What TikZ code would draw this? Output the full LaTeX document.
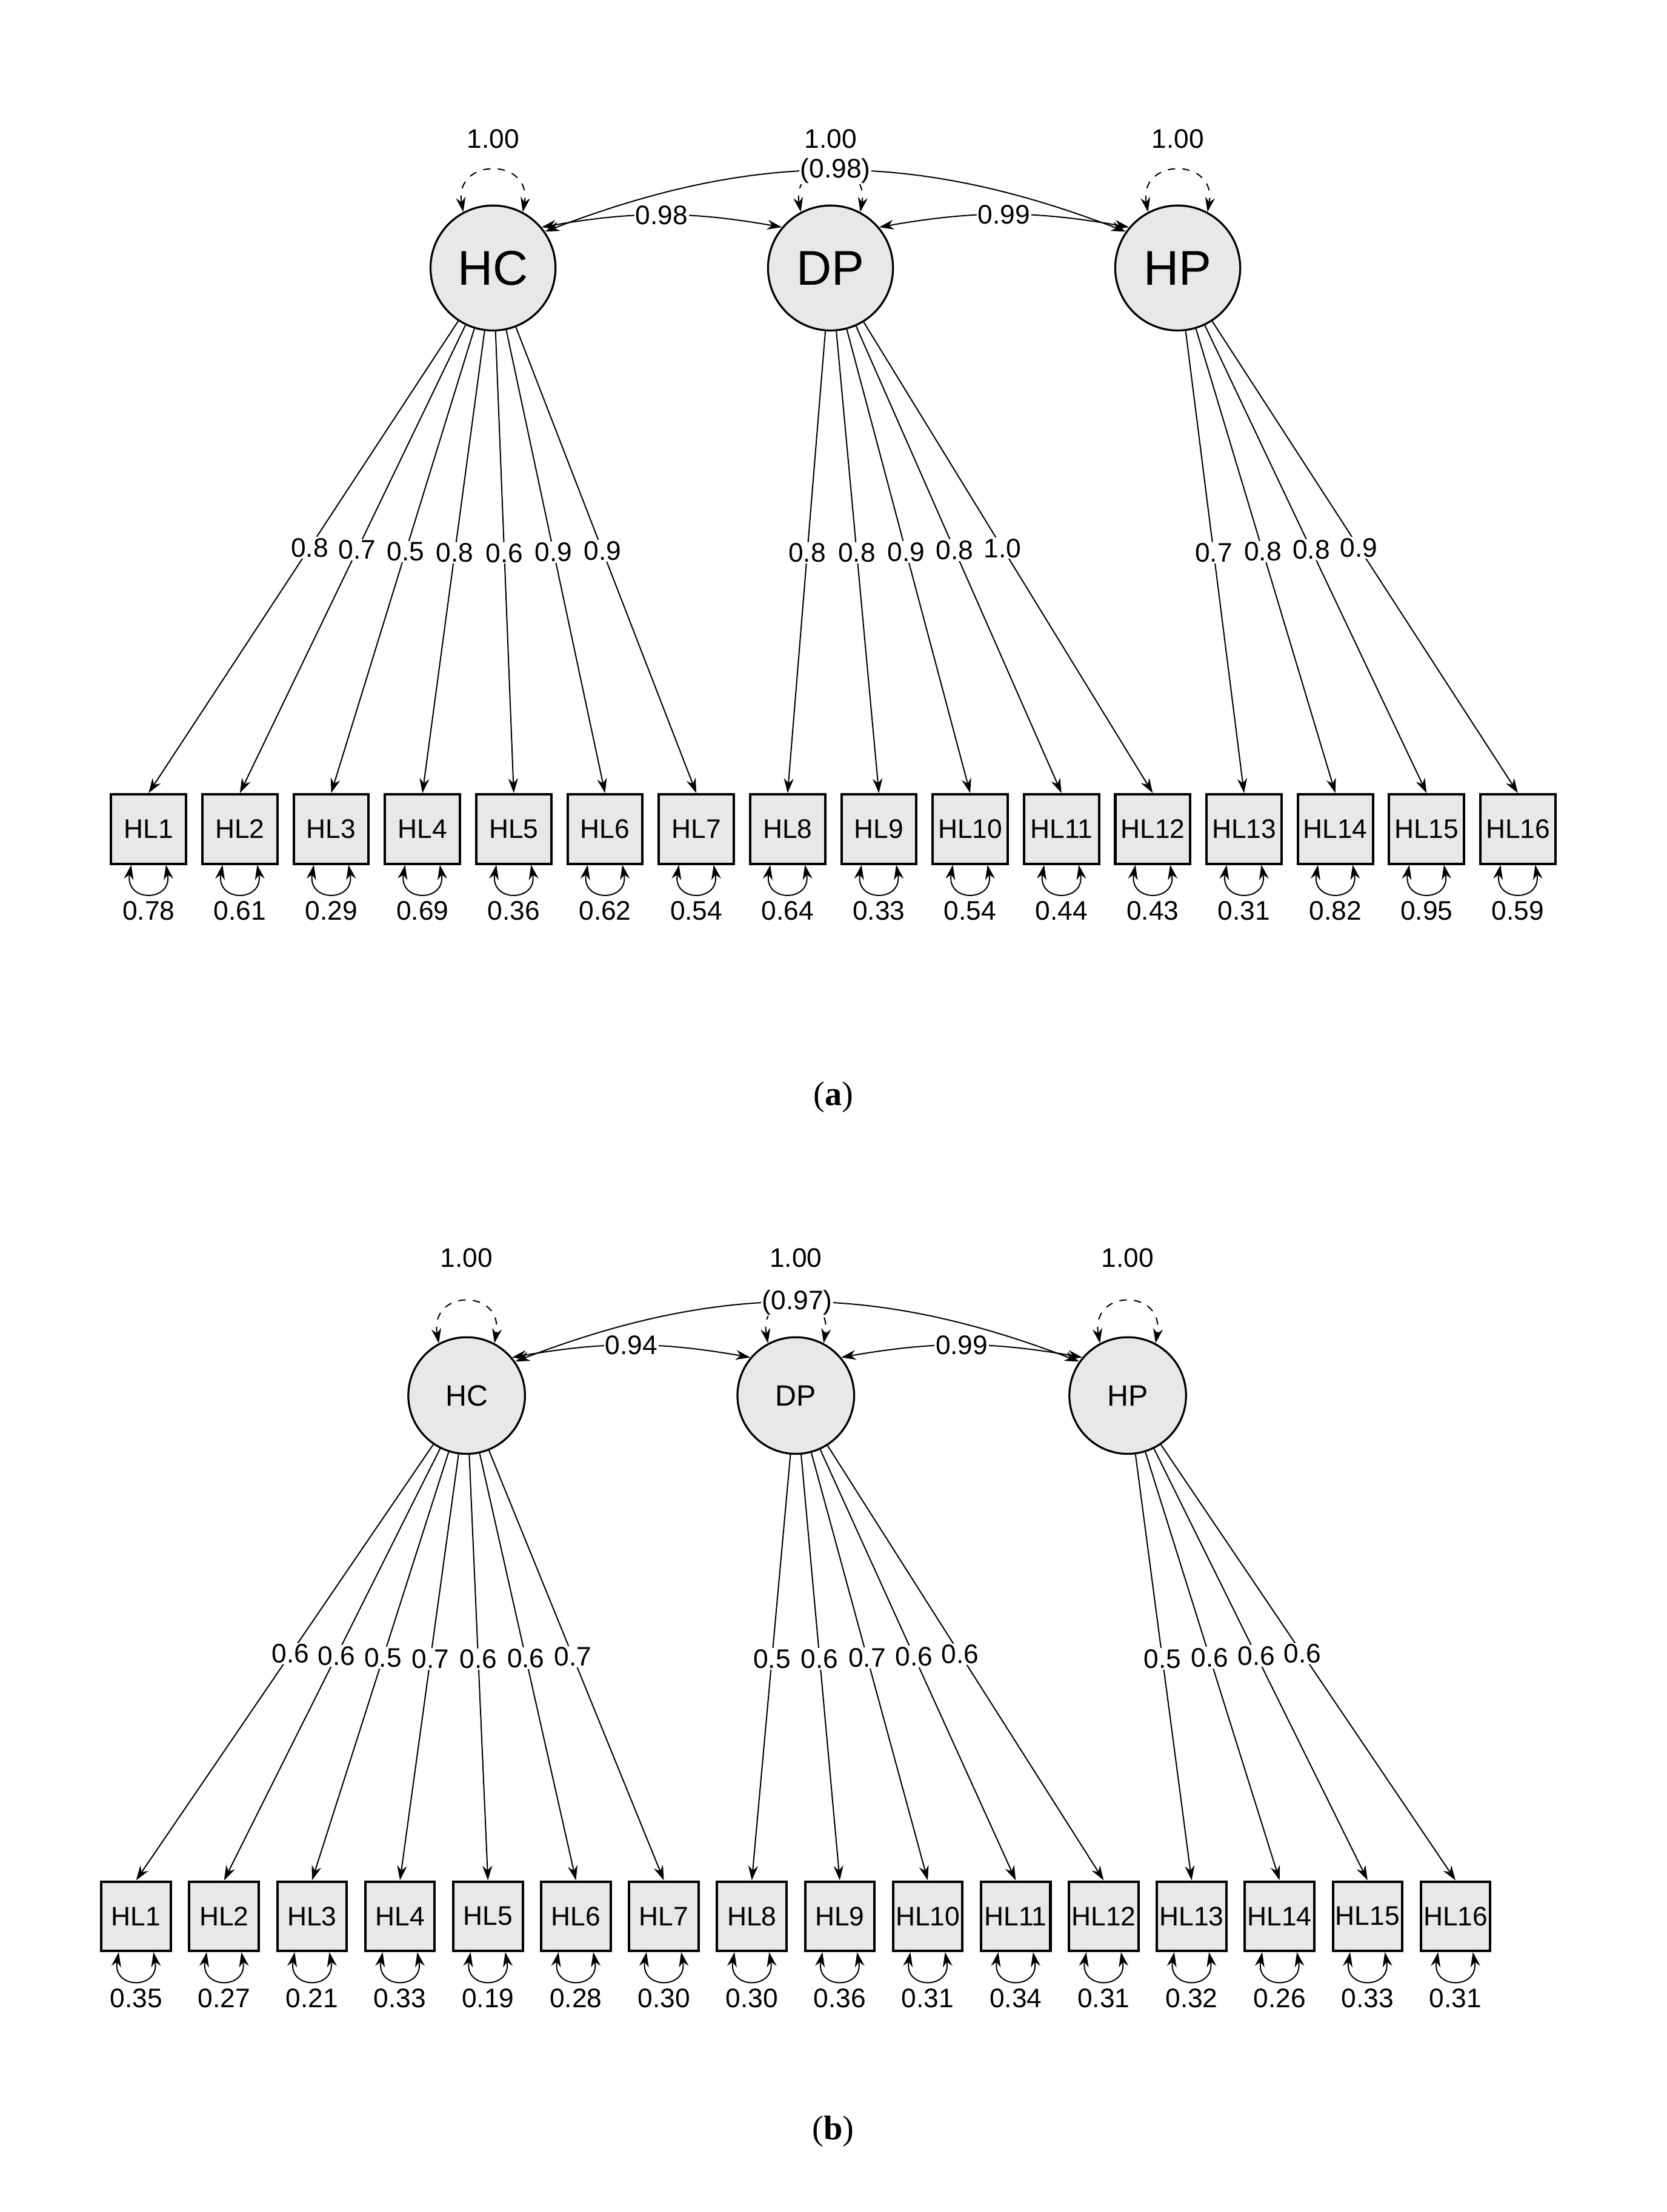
\documentclass[tikz,border=0pt]{standalone}
\usepackage{fontspec}
\setmainfont{Liberation Sans}
\newfontfamily\capfont{Liberation Serif}
\usetikzlibrary{arrows.meta}

\tikzset{
  latent/.style={circle, draw, fill=gray!18, line width=0.8pt},
  observed/.style={rectangle, draw, fill=gray!18, line width=1pt, font=\fontsize{11}{13}\selectfont},
  load/.style={-{Stealth[length=6pt,width=4pt]}, line width=0.5pt},
  cov/.style={{Stealth[length=6pt,width=4pt]}-{Stealth[length=6pt,width=4pt]}, line width=0.5pt},
  coef/.style={font=\fontsize{11}{13}\selectfont, fill=white, inner sep=0.5pt},
  var/.style={font=\fontsize{11}{13}\selectfont, inner sep=0.5pt},
}

\begin{document}
\begin{tikzpicture}
  \useasboundingbox (0,0) rectangle (24,-31.86);

  % ---------- panel (a)
  \node[latent, minimum size=1.8cm, font=\fontsize{20}{22}\selectfont] (HCa) at (7.10,-3.86) {HC};
  \node[latent, minimum size=1.8cm, font=\fontsize{20}{22}\selectfont] (DPa) at (11.96,-3.86) {DP};
  \node[latent, minimum size=1.8cm, font=\fontsize{20}{22}\selectfont] (HPa) at (16.96,-3.86) {HP};

  \foreach \f in {HCa,DPa,HPa}{
    \draw[cov, dashed] (\f.118) .. controls +(100:0.8) and +(80:0.8) .. (\f.62);
    \node[var] at ([yshift=1.86cm]\f.center) {1.00};
  }
  \draw[cov] (HCa.35) to[bend left=21] node[coef, pos=0.5] {(0.98)} (HPa.145);
  \draw[cov] (HCa.40) to[bend left=10] node[coef] {0.98} (DPa.140);
  \draw[cov] (DPa.40) to[bend left=10] node[coef] {0.99} (HPa.140);

  \foreach \i/\f/\l/\e in {1/HCa/0.8/0.78, 2/HCa/0.7/0.61, 3/HCa/0.5/0.29, 4/HCa/0.8/0.69,
      5/HCa/0.6/0.36, 6/HCa/0.9/0.62, 7/HCa/0.9/0.54, 8/DPa/0.8/0.64, 9/DPa/0.8/0.33,
      10/DPa/0.9/0.54, 11/DPa/0.8/0.44, 12/DPa/1.0/0.43, 13/HPa/0.7/0.31,
      14/HPa/0.8/0.82, 15/HPa/0.8/0.95, 16/HPa/0.9/0.59}{
    \node[observed, minimum width=1.08cm, minimum height=1.0cm, inner sep=0pt]
      (HLa\i) at ({2.14+1.3146*(\i-1)},-11.94) {HL\i};
    \draw[load] (\f) -- node[coef, pos=0.48] {\l} (HLa\i.north);
    \draw[cov] ([xshift=-0.25cm]HLa\i.south) .. controls +(-100:0.55) and +(-80:0.55) .. ([xshift=0.25cm]HLa\i.south);
    \node[var, fill=white] at ([yshift=-0.66cm]HLa\i.south) {\e};
  }
  \node[font=\capfont\fontsize{14}{16}\selectfont] (capa) at (12,-15.8) {(\textbf{a})};

  % ---------- panel (b)
  \node[latent, minimum size=1.68cm, font=\fontsize{12}{14}\selectfont] (HCb) at (6.72,-20.1) {HC};
  \node[latent, minimum size=1.68cm, font=\fontsize{12}{14}\selectfont] (DPb) at (11.46,-20.1) {DP};
  \node[latent, minimum size=1.68cm, font=\fontsize{12}{14}\selectfont] (HPb) at (16.24,-20.1) {HP};

  \foreach \f in {HCb,DPb,HPb}{
    \draw[cov, dashed] (\f.118) .. controls +(100:0.8) and +(80:0.8) .. (\f.62);
    \node[var] at ([yshift=1.98cm]\f.center) {1.00};
  }
  \draw[cov] (HCb.35) to[bend left=21] node[coef, pos=0.5] {(0.97)} (HPb.145);
  \draw[cov] (HCb.40) to[bend left=10] node[coef] {0.94} (DPb.140);
  \draw[cov] (DPb.40) to[bend left=10] node[coef] {0.99} (HPb.140);

  \foreach \i/\f/\l/\e in {1/HCb/0.6/0.35, 2/HCb/0.6/0.27, 3/HCb/0.5/0.21, 4/HCb/0.7/0.33,
      5/HCb/0.6/0.19, 6/HCb/0.6/0.28, 7/HCb/0.7/0.30, 8/DPb/0.5/0.30, 9/DPb/0.6/0.36,
      10/DPb/0.7/0.31, 11/DPb/0.6/0.34, 12/DPb/0.6/0.31, 13/HPb/0.5/0.32,
      14/HPb/0.6/0.26, 15/HPb/0.6/0.33, 16/HPb/0.6/0.31}{
    \node[observed, minimum width=1.0cm, minimum height=1.0cm, inner sep=0pt]
      (HLb\i) at ({1.96+1.2667*(\i-1)},-27.6) {HL\i};
    \draw[load] (\f) -- node[coef, pos=0.48] {\l} (HLb\i.north);
    \draw[cov] ([xshift=-0.25cm]HLb\i.south) .. controls +(-100:0.55) and +(-80:0.55) .. ([xshift=0.25cm]HLb\i.south);
    \node[var, fill=white] at ([yshift=-0.66cm]HLb\i.south) {\e};
  }
  \node[font=\capfont\fontsize{14}{16}\selectfont] (capb) at (12,-30.7) {(\textbf{b})};
\end{tikzpicture}
\end{document}
